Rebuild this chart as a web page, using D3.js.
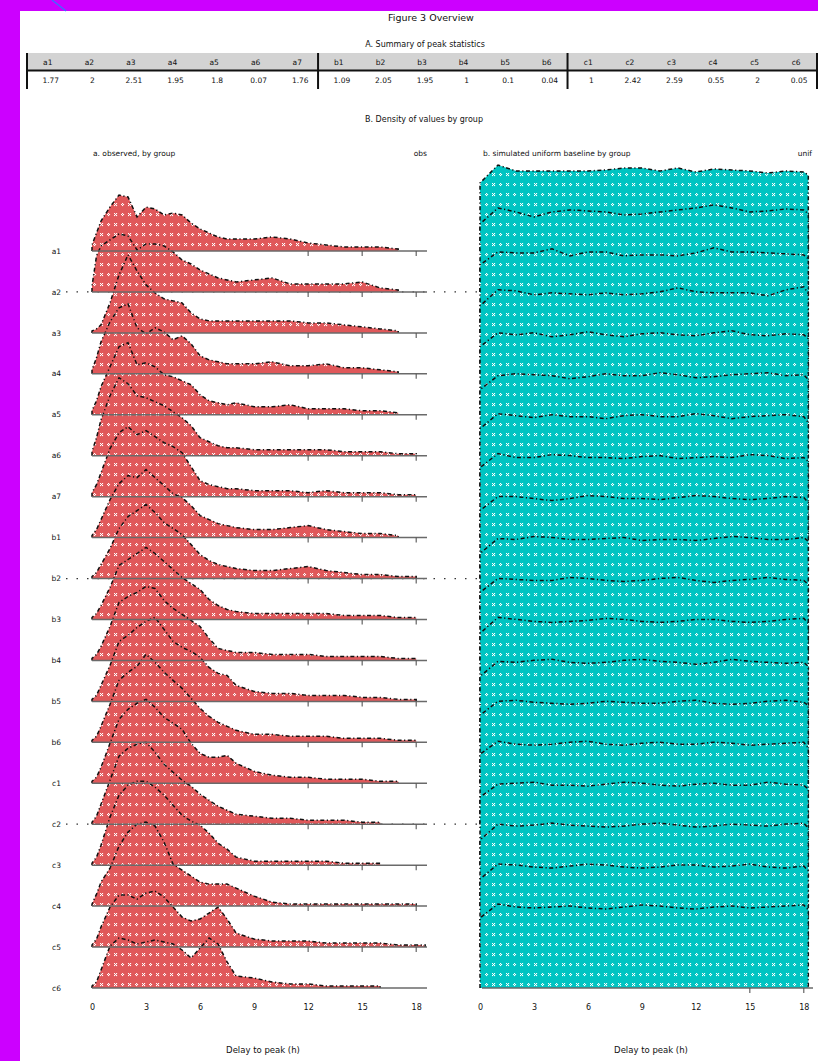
<!DOCTYPE html>
<html>
<head>
<meta charset="utf-8">
<script src="https://cdn.jsdelivr.net/npm/d3@7"></script>
<style>
  html, body { margin: 0; padding: 0; background: #cc00ff; }
  svg { display: block; }
  text { font-family: "DejaVu Sans", sans-serif; fill: #111; }
</style>
</head>
<body>
<svg id="chart" width="818" height="1061"></svg>
<script>
// ---- data -------------------------------------------------------------
const groups = ["a1","a2","a3","a4","a5","a6","a7","b1","b2","b3","b4","b5","b6","c1","c2","c3","c4","c5","c6"];
const peakValues = [1.77, 2, 2.51, 1.95, 1.8, 0.07, 1.76, 1.09, 2.05, 1.95, 1, 0.1, 0.04, 1, 2.42, 2.59, 0.55, 2, 0.05];
const markedGroups = ["a2", "b2", "c2"];

const xTicks = [0, 3, 6, 9, 12, 15, 18];
const rowTicks = [12, 15, 18];
const bottomTicksUniform = [15, 18];

// evaluation grid (hours) for the observed densities
const hours = [0, 0.25, 0.5, 1, 1.5, 2, 2.5, 3, 3.5, 4, 4.5, 5, 5.5, 6, 6.5, 7, 7.5, 8, 9, 10, 11, 12, 13, 14, 15, 16, 17, 18, 18.5];
// observed density (per cent per hour), one row per group, null = no data
const observed = [
  [3, 9, 15, 22, 28, 27, 17, 22, 21, 18, 19, 18, 14, 11, 9, 7, 6, 6, 6, 7, 6, 4, 3, 2, 2, 2, 1, null, null],
  [3, 18, 23, 26, 29, 28, 21, 24, 24, 23, 20, 16, 14, 11, 9, 7, 6, 5, 6, 7, 4, 4, 4, 4, 5, 2, 1, null, null],
  [1, 2, 4, 15, 29, 39, 31, 24, 20, 17, 16, 15, 10, 7, 6, 6, 6, 6, 6, 6, 6, 5, 5, 4, 3, 2, 1, null, null],
  [2, 8, 16, 26, 33, 35, 23, 20, 23, 21, 17, 19, 15, 9, 7, 6, 5, 5, 5, 6, 4, 4, 5, 3, 3, 2, 1, null, null],
  [2, 7, 14, 24, 34, 36, 25, 26, 24, 20, 19, 17, 15, 10, 7, 6, 5, 6, 4, 4, 5, 3, 3, 3, 2, 2, 1, null, null],
  [2, 9, 18, 30, 39, 36, 30, 29, 27, 25, 22, 19, 15, 9, 7, 5, 4, 4, 3, 3, 3, 3, 3, 2, 2, 2, 1, 1, null],
  [2, 6, 12, 24, 32, 35, 31, 33, 30, 27, 25, 22, 15, 8, 6, 5, 4, 4, 3, 3, 3, 2, 3, 2, 2, 2, 1, 1, null],
  [1, 4, 9, 19, 27, 31, 30, 34, 30, 26, 22, 20, 16, 11, 9, 7, 6, 5, 4, 4, 5, 6, 4, 3, 2, 2, 1, null, null],
  [1, 3, 7, 15, 25, 31, 34, 37, 33, 28, 25, 22, 17, 12, 9, 7, 6, 5, 4, 4, 5, 6, 4, 3, 2, 2, 1, 1, null],
  [1, 3, 7, 16, 27, 30, 33, 36, 33, 29, 25, 21, 18, 15, 10, 7, 5, 4, 3, 3, 3, 3, 3, 2, 2, 2, 1, 1, null],
  [1, 3, 7, 17, 29, 32, 34, 37, 36, 30, 26, 23, 20, 17, 11, 6, 5, 4, 4, 3, 3, 3, 2, 2, 2, 2, 1, 1, null],
  [1, 3, 8, 18, 30, 33, 37, 40, 42, 36, 30, 27, 25, 22, 17, 14, 13, 8, 5, 4, 4, 3, 3, 3, 2, 2, 1, 1, null],
  [1, 3, 8, 19, 31, 35, 38, 44, 40, 35, 31, 27, 22, 17, 13, 10, 8, 6, 4, 4, 3, 3, 3, 2, 2, 2, 1, 1, null],
  [1, 3, 8, 20, 32, 37, 40, 42, 38, 33, 30, 27, 20, 15, 13, 13, 14, 10, 6, 4, 3, 3, 2, 2, 2, 1, 1, null, null],
  [1, 4, 10, 22, 34, 38, 40, 41, 36, 30, 26, 22, 19, 15, 12, 9, 7, 5, 4, 3, 3, 2, 2, 2, 1, 1, null, null, null],
  [1, 4, 10, 24, 35, 40, 42, 42, 39, 35, 30, 25, 22, 20, 16, 11, 8, 4, 2, 2, 2, 2, 2, 1, 1, 1, null, null, null],
  [1, 6, 12, 19, 30, 37, 41, 42, 40, 32, 21, 18, 15, 12, 11, 11, 11, 9, 5, 2, 1, 1, 1, 1, 1, 1, 1, 1, null],
  [1, 4, 10, 20, 26, 26, 24, 27, 28, 25, 20, 15, 13, 14, 17, 20, 14, 7, 4, 3, 3, 3, 2, 2, 2, 2, 1, 1, 1],
  [1, 3, 9, 21, 25, 24, 22, 23, 24, 23, 22, 19, 15, 20, 25, 22, 13, 6, 5, 3, 2, 2, 1, 1, 1, 1, null, null, null]
];

// evaluation grid (hours) for the uniform baseline densities
const unifHours = [0, 1, 2, 3, 4, 5, 6, 7, 8, 9, 10, 11, 12, 13, 14, 15, 16, 17, 18, 18.25];
const uniform = [
  [34, 43, 40, 40, 40, 40, 40, 40.5, 41.5, 41.5, 40, 41.5, 39.5, 41, 40.5, 40, 39, 40, 39.5, 38],
  [34, 42, 40, 37.5, 40, 41, 40.5, 40, 38.5, 39, 40, 41, 42, 43.5, 42, 40, 40.5, 41.5, 41, 39],
  [34, 40.5, 40, 40, 42, 38.5, 40.5, 40.5, 38.5, 39, 39, 38.5, 40, 42.5, 40.5, 40.5, 40, 39.5, 39, 37],
  [34, 42, 41.5, 39.5, 40.5, 40, 39.5, 40.5, 39.5, 40, 41, 43, 41, 40.5, 40.5, 40.5, 39, 42, 43.5, 40],
  [34, 41, 40, 41, 39, 40, 41.5, 40, 39, 40.5, 41, 40, 39.5, 41, 42, 40, 39.5, 40.5, 40, 38],
  [33, 40, 41, 40.5, 40, 38.5, 39.5, 41, 40, 40, 41.5, 40.5, 39, 39.5, 40.5, 41, 41.5, 40, 40.5, 38],
  [34, 41.5, 40.5, 39.5, 41, 40, 40, 39, 40.5, 41, 40, 40, 41.5, 40.5, 39, 40, 40.5, 41, 40, 37],
  [35, 42, 40, 40, 41.5, 41, 40, 40, 39.5, 40.5, 41, 39.5, 40, 40.5, 40, 41.5, 41, 39.5, 40, 38],
  [34, 41, 41, 40, 39, 40, 41.5, 41, 40, 40, 39.5, 40.5, 41.5, 41, 40, 39.5, 40, 41, 40.5, 38],
  [33, 40.5, 40, 41.5, 41, 40, 40, 40.5, 41, 39.5, 40, 40, 39.5, 40.5, 41.5, 41, 40, 40, 41, 39],
  [34, 41, 40.5, 40, 40, 41.5, 41, 40, 39.5, 40, 41, 41.5, 40, 39, 40, 40.5, 41.5, 40.5, 40, 38],
  [34, 42, 41, 40, 39.5, 40, 40.5, 41.5, 41, 40, 39.5, 40, 41, 41, 40, 39.5, 40, 41, 41.5, 39],
  [33, 40.5, 40, 41, 41.5, 40, 39.5, 40, 41, 41.5, 40.5, 40, 39, 40, 41.5, 40.5, 40, 39.5, 40, 38],
  [34, 41, 41.5, 40.5, 40, 39.5, 40, 41, 40.5, 40, 40, 41, 41.5, 40, 39.5, 40, 41, 41.5, 40.5, 39],
  [35, 41.5, 40, 39.5, 40, 41, 41.5, 40, 39.5, 40.5, 41, 40, 40, 41, 40.5, 39.5, 40, 40.5, 41, 38],
  [34, 40.5, 41, 41.5, 40, 40, 39.5, 40.5, 41.5, 41, 40, 39.5, 40.5, 41, 40, 40, 41.5, 40.5, 40, 38],
  [33, 41, 40, 40.5, 41.5, 40.5, 40, 39.5, 40, 41, 41.5, 40.5, 39.5, 40, 41, 40.5, 40, 41, 41.5, 39],
  [34, 41.5, 41, 40, 39.5, 40.5, 41.5, 41, 40, 39.5, 40, 41, 41, 40, 40.5, 41.5, 40, 39.5, 40.5, 38],
  [35, 42, 40.5, 40, 40.5, 41, 40, 39.5, 40.5, 41.5, 41, 40, 39.5, 40.5, 41, 40, 40.5, 41, 41.5, 39]
];

// ---- setup ------------------------------------------------------------
const svg = d3.select("#chart");
const W = 818, H = 1061;

const RED = "#e0585a";
const TEAL = "#00c4c2";
const OUTLINE_DASH = "4,2.5,1.2,2.5";

// page frame
svg.append("rect").attr("x", 0).attr("y", 0).attr("width", W).attr("height", H).attr("fill", "#cc00ff");
svg.append("rect").attr("x", 20).attr("y", 11).attr("width", W - 20).attr("height", H - 11).attr("fill", "#fff");
svg.append("line").attr("x1", 52).attr("y1", 0).attr("x2", 66).attr("y2", 11)
  .attr("stroke", "#3d6bff").attr("stroke-width", 1.4);

// hatch-like fill patterns
const defs = svg.append("defs");
function makePattern(id, color) {
  const p = defs.append("pattern").attr("id", id)
    .attr("patternUnits", "userSpaceOnUse").attr("width", 14).attr("height", 10);
  p.append("rect").attr("width", 14).attr("height", 10).attr("fill", color);
  const marks = [[2,3],[4,3],[3,4],[2,5],[4,5],[10,3],[9,4],[11,4],[10,5]];
  marks.forEach(([x, y]) => p.append("rect").attr("x", x).attr("y", y)
    .attr("width", 1.1).attr("height", 1.1).attr("fill", "#fff"));
}
makePattern("fillObs", RED);
makePattern("fillUnif", TEAL);

// ---- titles -------------------------------------------------------------
svg.append("text").attr("x", 431).attr("y", 21).attr("text-anchor", "middle")
  .style("font-size", "9.5px").text("Figure 3  Overview");
svg.append("text").attr("x", 425).attr("y", 47).attr("text-anchor", "middle")
  .style("font-size", "8px").text("A. Summary of peak statistics");
svg.append("text").attr("x", 424).attr("y", 122).attr("text-anchor", "middle")
  .style("font-size", "8px").text("B. Density of values by group");

// ---- table -----------------------------------------------------------------
const col = d3.scaleBand().domain(groups).range([27, 817]);
const tTop = 53, tMid = 70.5, tBot = 89;
svg.append("rect").attr("x", 27).attr("y", tTop).attr("width", 790).attr("height", tMid - tTop)
  .attr("fill", "#d3d3d3");
svg.selectAll("text.th").data(groups).join("text").attr("class", "th")
  .attr("x", d => col(d) + col.bandwidth() / 2).attr("y", 62).attr("dy", "0.35em")
  .attr("text-anchor", "middle").style("font-size", "7.5px").text(d => d);
svg.selectAll("text.td").data(groups).join("text").attr("class", "td")
  .attr("x", d => col(d) + col.bandwidth() / 2 + 3).attr("y", 80).attr("dy", "0.35em")
  .attr("text-anchor", "middle").style("font-size", "7.5px")
  .text((d, i) => String(peakValues[i]));
svg.append("line").attr("x1", 27).attr("x2", 817).attr("y1", tMid).attr("y2", tMid)
  .attr("stroke", "#111").attr("stroke-width", 2);
// vertical rules at the table edges and between column blocks
const blockEdges = [27];
groups.forEach((g, i) => { if (i > 0 && g[0] !== groups[i - 1][0]) blockEdges.push(col(g)); });
blockEdges.push(817);
svg.selectAll("line.vr").data(blockEdges).join("line").attr("class", "vr")
  .attr("x1", d => d).attr("x2", d => d).attr("y1", tTop).attr("y2", tBot)
  .attr("stroke", "#111").attr("stroke-width", 2);

// ---- ridgeline panels ------------------------------------------------------
const yRow = d3.scalePoint().domain(groups).range([251, 988]);
const hScale = d3.scaleLinear().domain([0, 50]).range([0, 100]);
const xL = d3.scaleLinear().domain([0, 18.6]).range([92, 427]);
const xR = d3.scaleLinear().domain([0, 18.4]).range([480, 811]);

// dotted reference rows (beneath the ridges)
svg.selectAll("line.ref").data(markedGroups).join("line").attr("class", "ref")
  .attr("x1", 66).attr("x2", 486).attr("y1", d => yRow(d)).attr("y2", d => yRow(d))
  .attr("stroke", "#333").attr("stroke-width", 1.3).attr("stroke-dasharray", "1.5,9");

function ridgePoints(xs, vals) {
  const pts = xs.map((u, i) => ({ u, d: vals[i] })).filter(p => p.d != null);
  return [{ u: pts[0].u, d: 0 }, ...pts, { u: pts[pts.length - 1].u, d: 0 }];
}

function drawRidges(g, xScale, xs, data, fillId) {
  groups.forEach((grp, i) => {
    const base = yRow(grp);
    const pts = ridgePoints(xs, data[i]);
    const area = d3.area().x(p => xScale(p.u)).y0(base).y1(p => base - hScale(p.d));
    const line = d3.line().x(p => xScale(p.u)).y(p => base - hScale(p.d));
    g.append("path").attr("d", area(pts)).attr("fill", `url(#${fillId})`);
    g.append("path").attr("d", line(pts)).attr("fill", "none")
      .attr("stroke", "#111").attr("stroke-width", 1.5).attr("stroke-dasharray", OUTLINE_DASH);
  });
}

// left panel: observed
const gL = svg.append("g");
gL.append("text").attr("x", 93).attr("y", 153).attr("dy", "0.35em").style("font-size", "7.5px")
  .text("a. observed, by group");
gL.append("text").attr("x", 427).attr("y", 153).attr("dy", "0.35em").attr("text-anchor", "end")
  .style("font-size", "7.5px").text("obs");
drawRidges(gL, xL, hours, observed, "fillObs");

// baselines and per-row ticks on top
gL.selectAll("line.base").data(groups).join("line").attr("class", "base")
  .attr("x1", xL(0)).attr("x2", xL.range()[1]).attr("y1", d => yRow(d)).attr("y2", d => yRow(d))
  .attr("stroke", "#6a6a6a").attr("stroke-width", 1.5);
groups.slice(0, -1).forEach(grp => {
  gL.selectAll(null).data(rowTicks).join("line")
    .attr("x1", d => xL(d)).attr("x2", d => xL(d))
    .attr("y1", yRow(grp)).attr("y2", yRow(grp) + 5)
    .attr("stroke", "#555").attr("stroke-width", 1.1);
});
gL.selectAll("text.rl").data(groups).join("text").attr("class", "rl")
  .attr("x", 61).attr("y", d => yRow(d)).attr("dy", "0.35em").attr("text-anchor", "end")
  .style("font-size", "7.5px").text(d => d);

const axL = d3.axisBottom(xL).tickValues(xTicks).tickSize(0).tickPadding(16);
gL.append("g").attr("transform", `translate(0,${yRow(groups[groups.length - 1])})`).call(axL)
  .call(a => a.select(".domain").remove())
  .call(a => a.selectAll("text").style("font-size", "8px").attr("fill", "#111"));
gL.append("text").attr("x", 263).attr("y", 1050).attr("dy", "0.35em").attr("text-anchor", "middle")
  .style("font-size", "8.5px").text("Delay to peak (h)");

// right panel: uniform baseline
const gR = svg.append("g");
gR.append("text").attr("x", 483).attr("y", 153).attr("dy", "0.35em").style("font-size", "7.5px")
  .text("b. simulated uniform baseline by group");
gR.append("text").attr("x", 812).attr("y", 153).attr("dy", "0.35em").attr("text-anchor", "end")
  .style("font-size", "7.5px").text("unif");
drawRidges(gR, xR, unifHours, uniform, "fillUnif");

const lastBase = yRow(groups[groups.length - 1]);
gR.append("line").attr("x1", 482).attr("x2", 813).attr("y1", lastBase).attr("y2", lastBase)
  .attr("stroke", "#6a6a6a").attr("stroke-width", 1.5);
gR.selectAll("line.bt").data(bottomTicksUniform).join("line").attr("class", "bt")
  .attr("x1", d => xR(d)).attr("x2", d => xR(d)).attr("y1", lastBase).attr("y2", lastBase + 5)
  .attr("stroke", "#555").attr("stroke-width", 1.1);
const axR = d3.axisBottom(xR).tickValues(xTicks).tickSize(0).tickPadding(16);
gR.append("g").attr("transform", `translate(0,${lastBase})`).call(axR)
  .call(a => a.select(".domain").remove())
  .call(a => a.selectAll("text").style("font-size", "8px").attr("fill", "#111"));
gR.append("text").attr("x", 651).attr("y", 1050).attr("dy", "0.35em").attr("text-anchor", "middle")
  .style("font-size", "8.5px").text("Delay to peak (h)");
</script>
</body>
</html>
